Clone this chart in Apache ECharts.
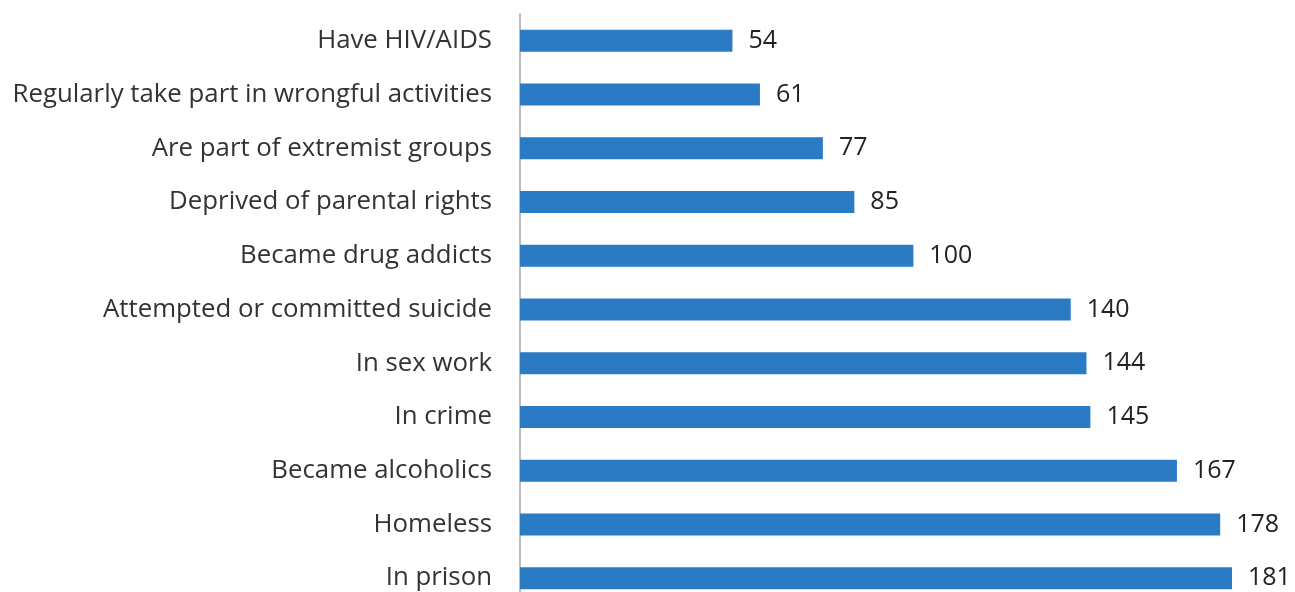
<!DOCTYPE html>
<html><head><meta charset="utf-8">
<script src="https://cdn.jsdelivr.net/npm/echarts@6/dist/echarts.min.js"></script>
<style>html,body{margin:0;padding:0;background:#fff;overflow:hidden}#c{width:1295px;height:606px}</style>
</head><body><div id="c"></div>
<script>
const categories = ["Have HIV/AIDS","Regularly take part in wrongful activities","Are part of extremist groups","Deprived of parental rights","Became drug addicts","Attempted or committed suicide","In sex work","In crime","Became alcoholics","Homeless","In prison"];
const values = [54,61,77,85,100,140,144,145,167,178,181];
const chart = echarts.init(document.getElementById('c'));
chart.setOption({
  animation:false,
  grid:{left:520,right:63,top:14,height:591,containLabel:false},
  xAxis:{type:'value',min:0,max:181,show:false},
  yAxis:{type:'category',data:categories,inverse:true,
    axisLine:{show:true,lineStyle:{color:'#a6a6a6',width:1.5}},
    axisTick:{show:false},
    axisLabel:{margin:28,fontFamily:'Open Sans',fontSize:25.8,color:'#333'}},
  series:[{type:'bar',data:values,barWidth:22,
    itemStyle:{color:'#2b7bc4'},
    label:{show:true,position:'right',distance:16,fontFamily:'Open Sans',fontSize:25,color:'#222'}}]
});
</script></body></html>
